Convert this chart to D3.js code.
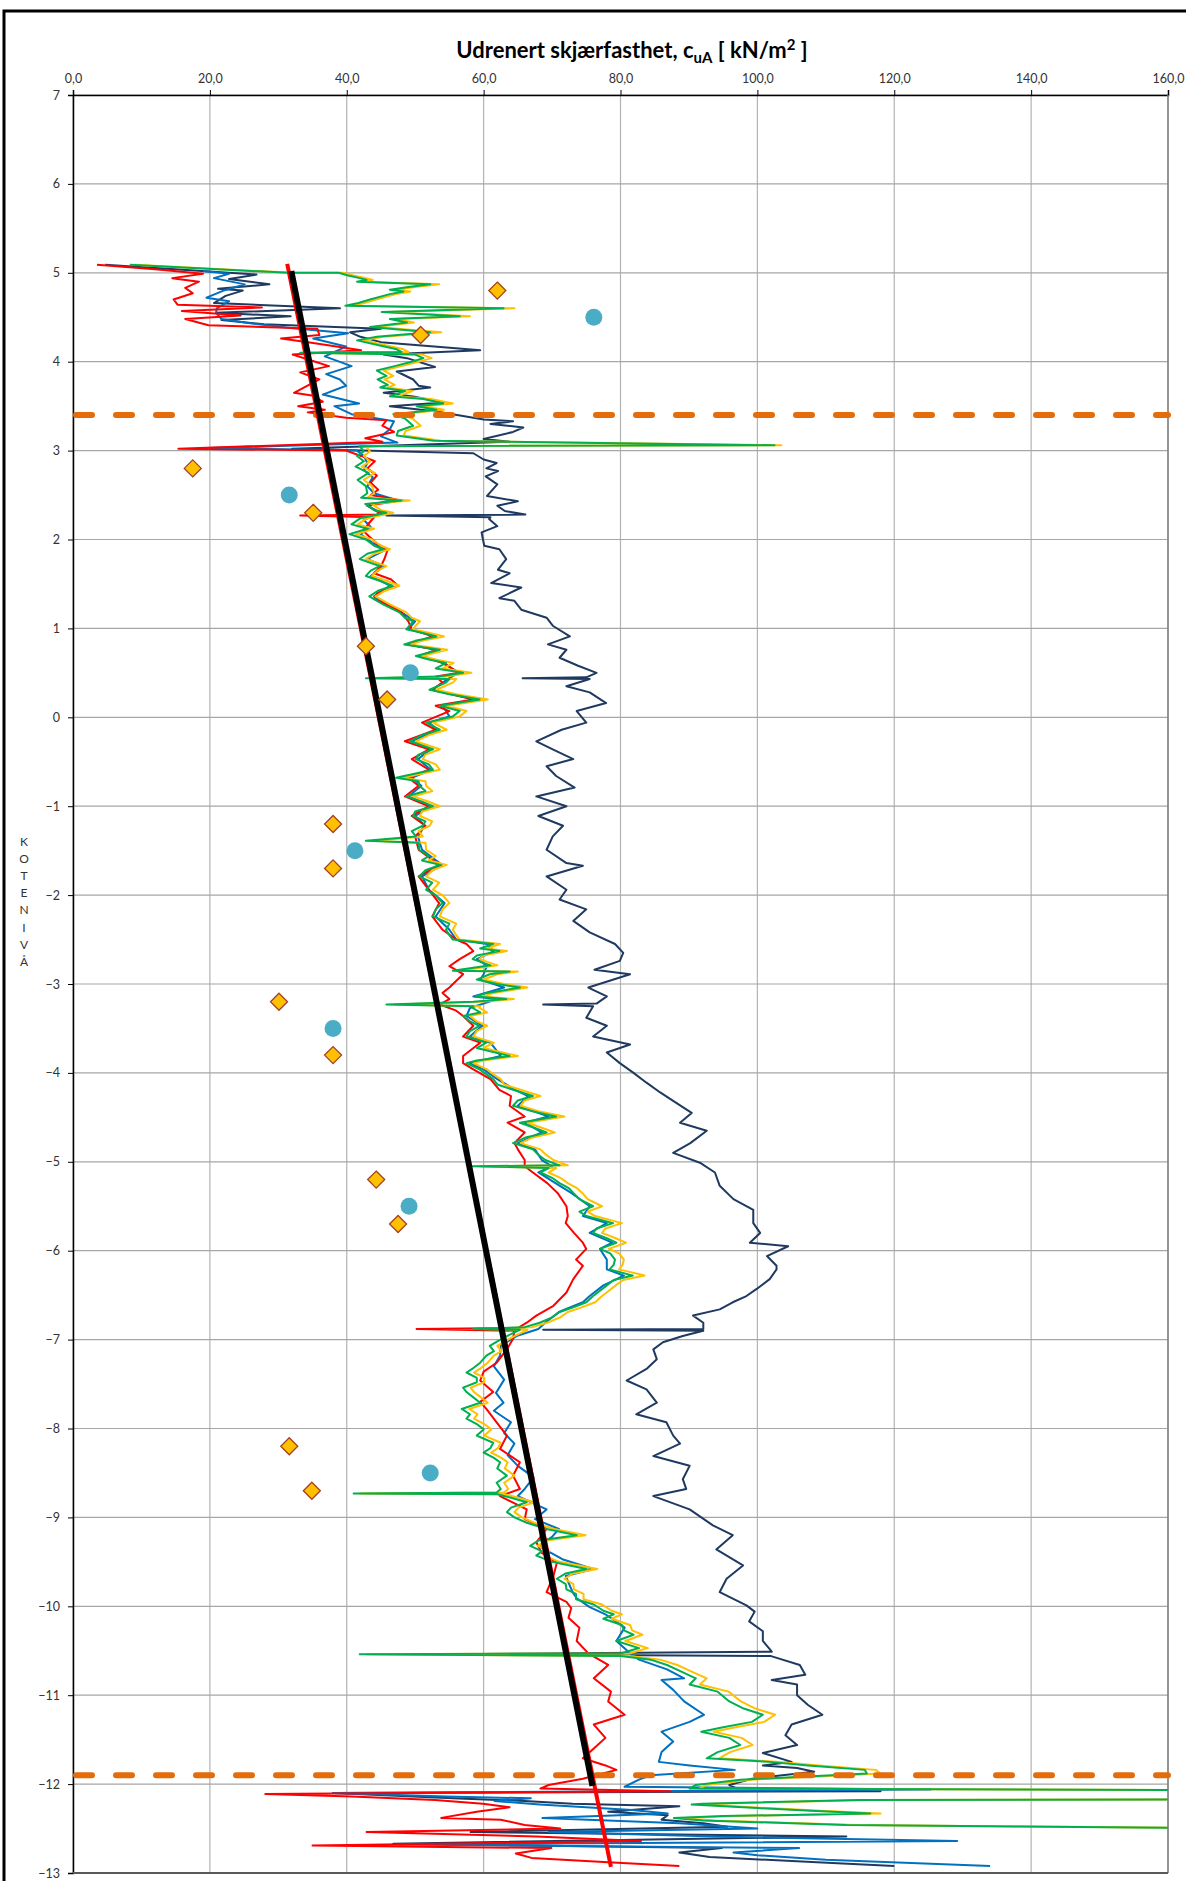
<!DOCTYPE html>
<html>
<head>
<meta charset="utf-8">
<script src="https://cdn.jsdelivr.net/npm/d3@7"></script>
<style>
  body { margin: 0; background: #fff; }
  svg { display: block; font-family: Lato, "Open Sans", sans-serif; }
</style>
</head>
<body>
<svg id="chart" width="1186" height="1881"></svg>
<script>
// Udrenert skjærfasthet vs kotenivå - CPTU profiles
const xTicks = [0, 20, 40, 60, 80, 100, 120, 140, 160];
const yTicks = d3.range(7, -14, -1);
const yLabelLetters = ['K', 'O', 'T', 'E', 'N', 'I', 'V', 'Å'];

// [kote, cu]
const navyData = [
  [5.09, 4.7], [4.98, 26.8], [4.93, 22.8], [4.87, 28.7], [4.82, 21.2], [4.80, 24.8], [4.74, 22.3],
  [4.66, 20.6], [4.60, 39], [4.55, 20.9], [4.51, 31.8], [4.47, 21.7], [4.42, 27.9], [4.37, 45],
  [4.33, 40.5], [4.28, 42], [4.22, 45], [4.16, 54.6], [4.13, 59.5], [4.08, 45.4], [4.04, 48.8],
  [3.94, 52.9], [3.89, 47.3], [3.80, 49.7], [3.73, 50.5], [3.71, 52.2], [3.65, 45.4], [3.61, 49.7],
  [3.54, 54.1], [3.50, 46.3], [3.44, 53.1], [3.35, 60], [3.33, 64.3], [3.30, 61], [3.26, 65.8],
  [3.21, 64.3], [3.13, 60], [3.10, 63.8], [3.02, 32], [2.97, 58.5], [2.90, 60], [2.86, 61.9],
  [2.80, 60.4], [2.77, 62.1], [2.71, 60.3], [2.62, 62], [2.49, 60.5], [2.43, 65], [2.38, 62],
  [2.32, 63.1], [2.28, 66.1], [2.27, 45.8], [2.25, 61], [2.23, 60.8], [2.15, 62], [2.08, 59.7],
  [2.00, 59.9], [1.93, 60.1], [1.89, 62.3], [1.78, 63.3], [1.66, 62.1], [1.62, 63.8], [1.51, 61.1],
  [1.46, 65.5], [1.34, 62.3], [1.31, 64.5], [1.21, 65.5], [1.12, 69.2], [1.03, 70.1], [0.91, 72.6],
  [0.82, 69.4], [0.76, 72.1], [0.67, 71.1], [0.58, 73.8], [0.50, 76.5], [0.45, 75], [0.44, 65.7],
  [0.43, 75.5], [0.35, 72.1], [0.28, 75.5], [0.16, 77.9], [0.07, 73.6], [-0.06, 75], [-0.14, 71.4],
  [-0.27, 67.7], [-0.36, 70.1], [-0.47, 73.1], [-0.55, 69.2], [-0.66, 70.6], [-0.79, 73.3],
  [-0.89, 67.7], [-1.00, 72.1], [-1.11, 68], [-1.22, 71.6], [-1.34, 70.1], [-1.49, 69.2],
  [-1.64, 72.1], [-1.67, 74.5], [-1.79, 69.2], [-1.94, 72.1], [-2.05, 71.1], [-2.16, 75],
  [-2.29, 73.1], [-2.42, 75.5], [-2.55, 79.2], [-2.65, 80.4], [-2.74, 79.9], [-2.84, 76.2],
  [-2.89, 81.4], [-3.04, 75.3], [-3.14, 78], [-3.22, 76.5], [-3.23, 68.7], [-3.25, 76],
  [-3.38, 75], [-3.47, 78], [-3.59, 76], [-3.68, 81.4], [-3.77, 78], [-3.89, 79.9], [-4.00, 81.9],
  [-4.11, 83.8], [-4.22, 85.8], [-4.34, 88.2], [-4.45, 90.4], [-4.56, 88.7], [-4.65, 92.6],
  [-4.79, 90.2], [-4.90, 87.7], [-5.01, 91.6], [-5.12, 93.8], [-5.27, 94.5], [-5.42, 96.5],
  [-5.54, 99.4], [-5.69, 99.4], [-5.80, 100.4], [-5.91, 98.9], [-5.95, 104.5], [-6.06, 101.4],
  [-6.17, 102.8], [-6.21, 102.8], [-6.32, 101.8], [-6.43, 99.9], [-6.51, 98.4], [-6.58, 96.4],
  [-6.66, 94.5], [-6.73, 90.6], [-6.81, 92.1], [-6.88, 92.1], [-6.89, 68.7], [-6.90, 92.1],
  [-6.96, 89.1], [-7.03, 86.2], [-7.11, 84.8], [-7.22, 85.3], [-7.33, 83.8], [-7.46, 80.9],
  [-7.56, 83.8], [-7.71, 85.3], [-7.84, 82.3], [-7.93, 86.7], [-8.08, 87.7], [-8.17, 88.7],
  [-8.31, 84.8], [-8.42, 90.1], [-8.57, 89.1], [-8.68, 89.6], [-8.76, 84.8], [-8.91, 90.1],
  [-9.09, 93.5], [-9.20, 96.4], [-9.36, 94], [-9.54, 97.9], [-9.69, 95.5], [-9.84, 94.5],
  [-9.99, 98.4], [-10.06, 99.6], [-10.17, 98.8], [-10.28, 100.8], [-10.39, 100.8], [-10.51, 102.1],
  [-10.54, 56], [-10.56, 102], [-10.66, 106.2], [-10.77, 107], [-10.83, 102.1], [-10.88, 105.8],
  [-11.00, 105.8], [-11.11, 107.4], [-11.22, 109.5], [-11.33, 105], [-11.45, 104.1], [-11.56, 105.8],
  [-11.65, 100.8], [-11.75, 105], [-11.79, 100.8], [-11.82, 105.8], [-11.86, 108.3], [-11.94, 99.2],
  [-12.01, 95.9], [-12.05, 97], [-12.08, 118], [-12.10, 38], [-12.16, 55.5], [-12.19, 66],
  [-12.22, 73], [-12.25, 88.6], [-12.31, 78.2], [-12.35, 86.9], [-12.40, 86], [-12.44, 92.1],
  [-12.48, 95.6], [-12.54, 58.1], [-12.59, 113], [-12.67, 46.8], [-12.72, 94.8], [-12.77, 88.6],
  [-12.82, 93], [-12.88, 108.7], [-12.92, 120]
];

const blueData = [
  [5.02, 19], [4.99, 22.8], [4.94, 20.6], [4.87, 25.1], [4.80, 22], [4.72, 19.5], [4.68, 22.8],
  [4.60, 21], [4.55, 20.9], [4.48, 21.7], [4.44, 25.1], [4.38, 31.8], [4.32, 40.2], [4.26, 35.1],
  [4.17, 39.9], [4.06, 36.8], [3.95, 40.7], [3.86, 37], [3.80, 39], [3.73, 39.9], [3.63, 36.5],
  [3.53, 41.8], [3.50, 38.2], [3.41, 40.7], [3.33, 46.9], [3.24, 46.3], [3.16, 45], [3.09, 47.4],
  [3.03, 20], [3.00, 41.5], [2.94, 42.5], [2.86, 43], [2.78, 42.5], [2.70, 43.8], [2.60, 43],
  [2.52, 44], [2.45, 47], [2.38, 43], [2.30, 45], [2.22, 42.5], [2.14, 43.5], [2.06, 42],
  [1.95, 44], [1.89, 45.8], [1.78, 43], [1.70, 45.5], [1.59, 43.5], [1.48, 46.3], [1.36, 44],
  [1.27, 45.8], [1.18, 48], [1.08, 50], [0.99, 49], [0.91, 53], [0.82, 49], [0.76, 53.2],
  [0.69, 50.6], [0.61, 54.3], [0.50, 56.2], [0.39, 54], [0.31, 52.5], [0.20, 58.8], [0.13, 54],
  [0.01, 55], [-0.06, 52], [-0.14, 53.3], [-0.27, 49.5], [-0.36, 52.3], [-0.47, 50.4], [-0.59, 52.3],
  [-0.68, 49.5], [-0.77, 50.9], [-0.89, 49], [-1.00, 52.3], [-1.11, 50], [-1.22, 51.4], [-1.34, 50.4],
  [-1.49, 51], [-1.66, 53.9], [-1.79, 51], [-1.94, 52], [-2.09, 54.3], [-2.24, 53], [-2.39, 55],
  [-2.50, 56], [-2.55, 60.5], [-2.63, 61.5], [-2.72, 59], [-2.79, 60.5], [-2.89, 60], [-2.95, 59.5],
  [-3.04, 63], [-3.14, 58.5], [-3.17, 62], [-3.27, 58], [-3.36, 57.5], [-3.47, 59.8], [-3.59, 58],
  [-3.66, 61], [-3.81, 62.5], [-3.89, 58], [-3.96, 60], [-4.07, 62], [-4.19, 64.6], [-4.26, 66.5],
  [-4.37, 65], [-4.49, 69.5], [-4.56, 66], [-4.67, 68.5], [-4.79, 65], [-4.86, 67.5], [-4.98, 68.5],
  [-5.05, 70], [-5.12, 68], [-5.24, 70.5], [-5.35, 72.8], [-5.50, 75.5], [-5.61, 74.5], [-5.69, 78],
  [-5.80, 75.5], [-5.91, 78.8], [-5.98, 77], [-6.10, 78], [-6.21, 78], [-6.28, 80.5], [-6.39, 77.5],
  [-6.51, 75.5], [-6.58, 74.5], [-6.69, 71], [-6.81, 69], [-6.88, 68], [-6.96, 64.8], [-7.07, 62.5],
  [-7.18, 62.4], [-7.30, 61.5], [-7.45, 63], [-7.60, 61.8], [-7.71, 62.9], [-7.80, 61.5], [-7.93, 64],
  [-8.05, 63], [-8.17, 64.5], [-8.30, 63.5], [-8.42, 65], [-8.55, 67.3], [-8.68, 66], [-8.76, 65],
  [-8.91, 69.2], [-9.02, 67.5], [-9.13, 71], [-9.22, 70], [-9.32, 68], [-9.47, 71.5], [-9.58, 76],
  [-9.66, 72], [-9.75, 72.5], [-9.84, 73], [-9.91, 73.6], [-10.01, 75.5], [-10.09, 77.8],
  [-10.24, 80.6], [-10.39, 79.4], [-10.50, 81], [-10.60, 82.7], [-10.71, 86.8], [-10.81, 89.3],
  [-10.83, 86], [-10.94, 87.7], [-11.07, 89.3], [-11.22, 92.2], [-11.30, 90.1], [-11.41, 86],
  [-11.52, 87.7], [-11.64, 86], [-11.75, 85.6], [-11.79, 90.1], [-11.84, 96.7], [-11.90, 84.4],
  [-11.95, 82.7], [-12.03, 80.6], [-12.06, 125.3], [-12.10, 38], [-12.14, 54.6], [-12.16, 66.9],
  [-12.19, 61.6], [-12.23, 68.2], [-12.29, 81.7], [-12.33, 86.9], [-12.38, 68.6], [-12.44, 88.6],
  [-12.50, 100], [-12.54, 69.5], [-12.59, 93.9], [-12.64, 129.2], [-12.68, 47.7], [-12.72, 106.1],
  [-12.77, 96.5], [-12.80, 100], [-12.85, 110], [-12.92, 134]
];

const redData = [
  [5.09, 3.5], [5.04, 12], [4.99, 19], [4.94, 14.5], [4.90, 18.4], [4.83, 16.4], [4.77, 17.5],
  [4.70, 14.7], [4.64, 15.3], [4.61, 27.6], [4.57, 15.9], [4.52, 24.5], [4.48, 16.4], [4.41, 19.8],
  [4.37, 35.7], [4.30, 36], [4.26, 30.4], [4.21, 35.1], [4.13, 42.1], [4.08, 32.1], [4.02, 34.6],
  [3.95, 37.4], [3.88, 33.2], [3.80, 36], [3.72, 34], [3.65, 32.3], [3.62, 34.9], [3.55, 36.5],
  [3.50, 32.9], [3.46, 36.8], [3.43, 34.3], [3.37, 39.9], [3.34, 45.8], [3.28, 45.2], [3.21, 46.9],
  [3.14, 42.7], [3.10, 45.2], [3.02, 15.4], [3.00, 39.9], [2.94, 42.1], [2.88, 44.1], [2.80, 43],
  [2.72, 44.4], [2.64, 43.5], [2.56, 44.6], [2.50, 43.5], [2.44, 48], [2.38, 43], [2.28, 45.2],
  [2.27, 33.2], [2.25, 44], [2.18, 43.2], [2.10, 42.4], [2.04, 43.2], [1.95, 44.5], [1.89, 46],
  [1.78, 45.5], [1.70, 45], [1.62, 44], [1.55, 46.5], [1.48, 47.5], [1.40, 44.5], [1.33, 44],
  [1.27, 46], [1.18, 48], [1.08, 49], [0.99, 49.5], [0.91, 52.5], [0.82, 49], [0.76, 53], [0.69, 51],
  [0.61, 54], [0.50, 56.5], [0.46, 53], [0.39, 54], [0.31, 52.5], [0.20, 58.5], [0.13, 53],
  [0.07, 55], [-0.06, 51], [-0.14, 53], [-0.27, 48.5], [-0.36, 52], [-0.47, 49.5], [-0.59, 52],
  [-0.68, 49], [-0.77, 50.5], [-0.89, 48.5], [-1.00, 52], [-1.11, 49.5], [-1.22, 51.5], [-1.34, 50],
  [-1.49, 50.5], [-1.66, 53.5], [-1.79, 50.5], [-1.94, 52], [-2.09, 53.5], [-2.24, 52.5], [-2.39, 54],
  [-2.50, 56], [-2.55, 57.5], [-2.63, 58.5], [-2.72, 56.5], [-2.80, 55], [-2.89, 57], [-3.04, 55],
  [-3.10, 54], [-3.17, 55], [-3.23, 53.6], [-3.30, 56], [-3.36, 57], [-3.47, 58.5], [-3.59, 57],
  [-3.66, 59.5], [-3.81, 57], [-3.89, 57], [-3.96, 58.5], [-4.07, 61], [-4.19, 62.3], [-4.26, 64],
  [-4.37, 63.8], [-4.49, 66], [-4.56, 63.5], [-4.67, 66], [-4.79, 64.5], [-4.86, 65], [-4.98, 66],
  [-5.05, 66], [-5.12, 67.2], [-5.24, 69.3], [-5.35, 70.8], [-5.50, 72.1], [-5.61, 72.3], [-5.69, 72],
  [-5.80, 73.2], [-5.91, 74.5], [-5.98, 75], [-6.10, 73.5], [-6.17, 74.5], [-6.32, 73.1],
  [-6.47, 72.1], [-6.62, 70.2], [-6.73, 67.7], [-6.81, 66.3], [-6.87, 65], [-6.88, 50.2],
  [-6.90, 64.5], [-6.99, 64.3], [-7.11, 63.4], [-7.26, 61.9], [-7.36, 60], [-7.46, 59.5],
  [-7.59, 61.4], [-7.70, 59.5], [-7.78, 60.4], [-7.93, 61.9], [-8.08, 63.4], [-8.23, 62.4],
  [-8.38, 65.3], [-8.53, 64.3], [-8.68, 65.3], [-8.76, 62.4], [-8.91, 66.3], [-9.02, 66],
  [-9.13, 69.2], [-9.28, 67.7], [-9.40, 68.5], [-9.51, 70.7], [-9.66, 70.2], [-9.84, 69.2],
  [-9.95, 72.1], [-10.02, 72.8], [-10.13, 72.4], [-10.24, 74], [-10.39, 73.6], [-10.53, 75.3],
  [-10.66, 78.2], [-10.81, 76.1], [-10.96, 78.6], [-11.07, 78.2], [-11.22, 80.6], [-11.33, 76.1],
  [-11.48, 77.8], [-11.60, 76.1], [-11.71, 74.5], [-11.79, 77.8], [-11.84, 79.4], [-11.94, 74.5],
  [-12.01, 69.5], [-12.05, 68.3], [-12.08, 87.3], [-12.11, 28.1], [-12.14, 40.7], [-12.18, 52.9],
  [-12.22, 59.9], [-12.26, 63.8], [-12.31, 59], [-12.38, 53.8], [-12.40, 62.5], [-12.46, 66],
  [-12.50, 71.2], [-12.54, 42.9], [-12.59, 67.7], [-12.64, 83], [-12.69, 35], [-12.72, 69.9],
  [-12.78, 64.7], [-12.83, 67], [-12.88, 78.2], [-12.92, 88.6]
];

const yellowData = [
  [5.09, 9], [5.00, 32], [5.00, 39.5], [4.97, 41], [4.94, 42.8], [4.92, 43.8], [4.90, 42.3],
  [4.87, 53.5], [4.84, 50], [4.81, 47.3], [4.79, 49.3], [4.76, 47.2], [4.70, 44.3], [4.66, 42.6],
  [4.63, 40.7], [4.60, 64.5], [4.56, 46], [4.51, 58], [4.48, 47.2], [4.44, 49.8], [4.39, 44.3],
  [4.33, 53.8], [4.28, 45.4], [4.24, 42.5], [4.18, 46], [4.14, 48.3], [4.11, 49], [4.10, 34],
  [4.08, 51], [4.04, 52.4], [4.00, 50.5], [3.95, 48], [3.90, 45.4], [3.84, 46.8], [3.80, 45.5],
  [3.74, 47], [3.71, 46], [3.67, 49.6], [3.61, 47.3], [3.58, 52.3], [3.53, 55.5], [3.50, 51.2],
  [3.46, 54.2], [3.41, 47.8], [3.36, 49.6], [3.28, 50.8], [3.22, 48.6], [3.17, 48.3], [3.11, 53.8],
  [3.06, 103.5], [3.05, 42.8], [2.99, 43.4], [2.94, 42.5], [2.88, 43.4], [2.82, 42.2], [2.75, 44.1],
  [2.67, 42.5], [2.60, 43.7], [2.52, 44], [2.47, 43], [2.44, 49.2], [2.40, 43.6], [2.33, 45],
  [2.30, 46.8], [2.24, 43], [2.17, 41.6], [2.12, 44], [2.06, 41.3], [2.00, 43.7], [1.93, 45],
  [1.89, 46.3], [1.84, 44], [1.78, 42.8], [1.70, 45.8], [1.65, 44.5], [1.59, 43.7], [1.53, 46],
  [1.48, 47.7], [1.42, 45.5], [1.36, 44.2], [1.27, 46.3], [1.18, 48.7], [1.12, 49.5], [1.08, 50.7],
  [0.99, 49.6], [0.95, 52], [0.91, 54.2], [0.86, 51], [0.82, 49.3], [0.76, 54.7], [0.69, 51],
  [0.65, 53], [0.61, 55.6], [0.55, 54], [0.50, 58.2], [0.46, 54.5], [0.44, 44], [0.43, 56],
  [0.39, 55.5], [0.31, 53.1], [0.26, 56], [0.20, 60.6], [0.13, 54.6], [0.07, 57.5], [0.01, 56.5],
  [-0.06, 52.6], [-0.14, 54.6], [-0.20, 52], [-0.27, 50.1], [-0.36, 53.6], [-0.42, 51.5],
  [-0.47, 51.1], [-0.53, 53], [-0.59, 53.6], [-0.68, 48.2], [-0.72, 51.5], [-0.77, 51.6],
  [-0.83, 52.5], [-0.89, 49.7], [-0.95, 52], [-1.00, 53.6], [-1.06, 51], [-1.11, 50.7], [-1.17, 52.5],
  [-1.22, 52.1], [-1.28, 50.5], [-1.34, 51.1], [-1.39, 44], [-1.41, 51.5], [-1.49, 51.6], [-1.56, 53],
  [-1.61, 52], [-1.66, 54.6], [-1.72, 52.5], [-1.79, 51.6], [-1.86, 53.5], [-1.94, 52.6], [-2.00, 54],
  [-2.09, 55], [-2.16, 54], [-2.24, 53.6], [-2.32, 56], [-2.39, 55.5], [-2.45, 56], [-2.50, 56.5],
  [-2.55, 62.4], [-2.60, 60.5], [-2.63, 63.4], [-2.68, 60], [-2.72, 59.4], [-2.79, 62], [-2.85, 56.5],
  [-2.86, 65], [-2.89, 62], [-2.95, 60], [-3.00, 63], [-3.04, 66.4], [-3.10, 61.5], [-3.14, 59.9],
  [-3.17, 64.4], [-3.20, 59.5], [-3.23, 47], [-3.25, 59.5], [-3.27, 59.4], [-3.32, 60.5], [-3.36, 58],
  [-3.42, 59], [-3.47, 60.5], [-3.53, 59], [-3.59, 58.5], [-3.66, 61.5], [-3.72, 60], [-3.81, 65],
  [-3.86, 60], [-3.89, 58.5], [-3.96, 60.5], [-4.02, 61.5], [-4.07, 62.5], [-4.13, 63], [-4.19, 65.4],
  [-4.26, 68.3], [-4.31, 66], [-4.37, 65.4], [-4.43, 68], [-4.49, 71.8], [-4.56, 66.4], [-4.62, 68.6],
  [-4.67, 70.4], [-4.73, 67], [-4.79, 65.4], [-4.86, 68.3], [-4.92, 69.1], [-4.98, 70.2], [-5.04, 72.3],
  [-5.05, 59.5], [-5.07, 70.6], [-5.12, 69.5], [-5.18, 71.2], [-5.24, 72.3], [-5.30, 73.7],
  [-5.35, 74.4], [-5.42, 75.2], [-5.50, 77.3], [-5.56, 75.2], [-5.61, 76.3], [-5.69, 80.2],
  [-5.75, 77.8], [-5.80, 77.3], [-5.86, 79.3], [-5.91, 80.8], [-5.98, 78.3], [-6.03, 79.8],
  [-6.10, 80.5], [-6.16, 80.3], [-6.21, 79.8], [-6.28, 83.5], [-6.33, 80.4], [-6.39, 79.3],
  [-6.45, 78.3], [-6.51, 77.3], [-6.58, 76.3], [-6.64, 74.2], [-6.69, 72.3], [-6.75, 71.2],
  [-6.81, 69.3], [-6.86, 67.1], [-6.88, 59.5], [-6.89, 66.4], [-6.96, 64.5], [-7.02, 63.1],
  [-7.07, 62], [-7.13, 62.6], [-7.18, 61.5], [-7.26, 60.6], [-7.32, 59.6], [-7.37, 58.6], [-7.43, 60.1],
  [-7.48, 60.1], [-7.54, 58.1], [-7.59, 58.6], [-7.65, 59.6], [-7.71, 60.6], [-7.78, 57.9],
  [-7.84, 59.1], [-7.89, 58.6], [-7.95, 60.1], [-8.01, 61.1], [-8.08, 60.1], [-8.16, 62.5],
  [-8.22, 62.1], [-8.27, 61.1], [-8.33, 62.6], [-8.38, 63.5], [-8.45, 63.1], [-8.53, 64.5],
  [-8.61, 63], [-8.68, 63.6], [-8.72, 63], [-8.73, 42], [-8.74, 63.1], [-8.78, 65.1], [-8.83, 67.4],
  [-8.89, 65.1], [-8.94, 64.5], [-9.00, 65.6], [-9.06, 67.4], [-9.13, 70.3], [-9.20, 74.9],
  [-9.26, 69.1], [-9.32, 67.9], [-9.38, 69.6], [-9.43, 68.8], [-9.50, 71.1], [-9.58, 76.6],
  [-9.63, 73.1], [-9.69, 71.8], [-9.75, 73.1], [-9.81, 73.2], [-9.86, 74.6], [-9.92, 74.6],
  [-9.98, 77.3], [-10.05, 78.7], [-10.09, 80.2], [-10.14, 78.7], [-10.21, 81.4], [-10.27, 81.7],
  [-10.32, 83.2], [-10.39, 80.7], [-10.47, 84], [-10.53, 81.3], [-10.54, 43], [-10.56, 81.3],
  [-10.60, 85.8], [-10.66, 88.3], [-10.72, 90], [-10.81, 92.6], [-10.88, 91.6], [-10.96, 95.8],
  [-11.07, 97.6], [-11.15, 99.7], [-11.22, 102.6], [-11.30, 101], [-11.36, 96.8], [-11.41, 93.6],
  [-11.48, 97.7], [-11.56, 99.3], [-11.64, 96], [-11.71, 94.4], [-11.75, 103.2], [-11.79, 109],
  [-11.84, 117.3], [-11.88, 118], [-11.92, 107.3], [-11.95, 99], [-12.01, 92.5], [-12.05, 91.5],
  [-12.07, 175], [-12.17, 175], [-12.18, 116.5], [-12.22, 93.5], [-12.23, 92], [-12.27, 101.5],
  [-12.30, 109.3], [-12.33, 118], [-12.36, 96.5], [-12.38, 89.3], [-12.41, 93.5], [-12.44, 106.5],
  [-12.46, 114.5], [-12.50, 175]
];

const greenData = [
  [5.09, 8.3], [5.00, 31.5], [5.00, 38.8], [4.97, 40.2], [4.94, 41.9], [4.92, 42.9], [4.90, 41.5],
  [4.87, 52.2], [4.84, 49], [4.81, 46.3], [4.79, 48.3], [4.76, 46.3], [4.70, 43.4], [4.66, 41.7],
  [4.63, 39.8], [4.60, 62.9], [4.56, 45.1], [4.51, 56.5], [4.48, 46.3], [4.44, 48.8], [4.39, 43.4],
  [4.33, 52.2], [4.28, 44.4], [4.24, 41.5], [4.18, 45], [4.14, 47.3], [4.11, 48], [4.10, 33.2],
  [4.08, 50], [4.04, 51.2], [4.00, 49.5], [3.95, 47], [3.90, 44.4], [3.84, 45.8], [3.80, 44.5],
  [3.74, 46], [3.71, 44.9], [3.67, 48.5], [3.61, 46.3], [3.58, 51.2], [3.53, 54.1], [3.50, 50.2],
  [3.46, 53.1], [3.41, 46.8], [3.36, 48.5], [3.28, 49.7], [3.22, 47.5], [3.17, 47.3], [3.11, 52.7],
  [3.06, 102.5], [3.05, 41.9], [2.99, 42.5], [2.94, 41.5], [2.88, 42.5], [2.82, 41.3], [2.75, 43.2],
  [2.67, 41.6], [2.60, 42.8], [2.52, 43], [2.47, 42.1], [2.44, 48], [2.40, 42.7], [2.33, 44],
  [2.30, 45.8], [2.24, 42], [2.17, 40.7], [2.12, 43], [2.06, 40.4], [2.00, 42.8], [1.93, 44],
  [1.89, 45.3], [1.84, 43], [1.78, 41.9], [1.70, 44.8], [1.65, 43.5], [1.59, 42.8], [1.53, 45],
  [1.48, 46.7], [1.42, 44.5], [1.36, 43.3], [1.27, 45.3], [1.18, 47.7], [1.12, 48.5], [1.08, 49.7],
  [0.99, 48.7], [0.95, 51], [0.91, 53.1], [0.86, 50], [0.82, 48.4], [0.76, 53.6], [0.69, 50.1],
  [0.65, 52], [0.61, 54.5], [0.55, 53], [0.50, 57], [0.46, 53.5], [0.44, 42.8], [0.43, 55],
  [0.39, 54.5], [0.31, 52.1], [0.26, 55], [0.20, 59.4], [0.13, 53.6], [0.07, 56.5], [0.01, 55.5],
  [-0.06, 51.6], [-0.14, 53.6], [-0.20, 51], [-0.27, 49.2], [-0.36, 52.6], [-0.42, 50.5],
  [-0.47, 50.1], [-0.53, 52], [-0.59, 52.6], [-0.68, 47.2], [-0.72, 50.5], [-0.77, 50.6],
  [-0.83, 51.5], [-0.89, 48.7], [-0.95, 51], [-1.00, 52.6], [-1.06, 50], [-1.11, 49.7], [-1.17, 51.5],
  [-1.22, 51.1], [-1.28, 49.5], [-1.34, 50.1], [-1.39, 42.8], [-1.41, 50.5], [-1.49, 50.6], [-1.56, 52],
  [-1.61, 51], [-1.66, 53.6], [-1.72, 51.5], [-1.79, 50.6], [-1.86, 52.5], [-1.94, 51.6], [-2.00, 53],
  [-2.09, 54], [-2.16, 53], [-2.24, 52.6], [-2.32, 55], [-2.39, 54.5], [-2.45, 55], [-2.50, 55.5],
  [-2.55, 61.4], [-2.60, 59.5], [-2.63, 62.3], [-2.68, 59], [-2.72, 58.4], [-2.79, 61], [-2.85, 55.5],
  [-2.86, 63.8], [-2.89, 60.9], [-2.95, 59], [-3.00, 62], [-3.04, 65.3], [-3.10, 60.5], [-3.14, 58.9],
  [-3.17, 63.3], [-3.20, 58.5], [-3.23, 45.8], [-3.25, 58.5], [-3.27, 58.4], [-3.32, 59.5], [-3.36, 57],
  [-3.42, 58], [-3.47, 59.4], [-3.53, 58], [-3.59, 57.5], [-3.66, 60.4], [-3.72, 59], [-3.81, 63.8],
  [-3.86, 59], [-3.89, 57.5], [-3.96, 59.4], [-4.02, 60.5], [-4.07, 61.4], [-4.13, 62], [-4.19, 64.3],
  [-4.26, 67.2], [-4.31, 65], [-4.37, 64.3], [-4.43, 67], [-4.49, 70.6], [-4.56, 65.3], [-4.62, 67.5],
  [-4.67, 69.2], [-4.73, 66], [-4.79, 64.3], [-4.86, 67.2], [-4.92, 68], [-4.98, 69], [-5.04, 71.1],
  [-5.05, 58.4], [-5.07, 69.5], [-5.12, 68.3], [-5.18, 70], [-5.24, 71.1], [-5.30, 72.5], [-5.35, 73.1],
  [-5.42, 74], [-5.50, 76], [-5.56, 74], [-5.61, 75], [-5.69, 78.9], [-5.75, 76.5], [-5.80, 76],
  [-5.86, 78], [-5.91, 79.4], [-5.98, 77], [-6.03, 78.5], [-6.10, 79.2], [-6.16, 79], [-6.21, 78.4],
  [-6.28, 81.8], [-6.33, 79], [-6.39, 78], [-6.45, 77], [-6.51, 76], [-6.58, 75], [-6.64, 73],
  [-6.69, 71.1], [-6.75, 70], [-6.81, 68.2], [-6.86, 66], [-6.88, 58.5], [-6.89, 65.3], [-6.96, 63.4],
  [-7.02, 62], [-7.07, 60.9], [-7.13, 61.5], [-7.18, 60.4], [-7.26, 59.5], [-7.32, 58.5], [-7.37, 57.5],
  [-7.43, 59], [-7.48, 59], [-7.54, 57], [-7.59, 57.5], [-7.65, 58.5], [-7.71, 59.5], [-7.78, 56.8],
  [-7.84, 58], [-7.89, 57.5], [-7.95, 59], [-8.01, 60], [-8.08, 59], [-8.16, 61.4], [-8.22, 61],
  [-8.27, 60], [-8.33, 61.5], [-8.38, 62.4], [-8.45, 62], [-8.53, 63.4], [-8.61, 61.9], [-8.68, 62.5],
  [-8.72, 61.9], [-8.73, 41], [-8.74, 62], [-8.78, 64], [-8.83, 66.3], [-8.89, 64], [-8.94, 63.4],
  [-9.00, 64.5], [-9.06, 66.3], [-9.13, 69.2], [-9.20, 73.6], [-9.26, 68], [-9.32, 66.8], [-9.38, 68.5],
  [-9.43, 67.7], [-9.50, 70], [-9.58, 75], [-9.63, 72], [-9.69, 70.7], [-9.75, 72], [-9.81, 72.1],
  [-9.86, 73.5], [-9.92, 73.5], [-9.98, 76.1], [-10.05, 77.5], [-10.09, 79], [-10.14, 77.5],
  [-10.21, 80.2], [-10.27, 80.5], [-10.32, 81.9], [-10.39, 79.4], [-10.47, 82.7], [-10.53, 80],
  [-10.54, 41.9], [-10.56, 80], [-10.60, 84.4], [-10.66, 86.8], [-10.72, 88.5], [-10.81, 91],
  [-10.88, 90.1], [-10.96, 94.2], [-11.07, 95.9], [-11.15, 98], [-11.22, 100.8], [-11.30, 99.2],
  [-11.36, 95], [-11.41, 91.8], [-11.48, 95.9], [-11.56, 97.5], [-11.64, 94.2], [-11.71, 92.6],
  [-11.75, 101.7], [-11.79, 107.4], [-11.84, 115.7], [-11.88, 116], [-11.92, 105.8], [-11.95, 97.5],
  [-12.01, 91], [-12.05, 90.1], [-12.07, 175], [-12.17, 175], [-12.18, 114.8], [-12.22, 92],
  [-12.23, 90.4], [-12.27, 100], [-12.30, 107.8], [-12.33, 116.5], [-12.36, 95], [-12.38, 87.8],
  [-12.41, 92], [-12.44, 105], [-12.46, 113], [-12.50, 175]
];

// lab results
const diamondPts = [
  [4.8, 62], [4.3, 50.8], [2.8, 17.5], [2.3, 35.1], [0.8, 42.8], [0.2, 45.9], [-1.2, 38],
  [-1.7, 38], [-3.2, 30.1], [-3.8, 38], [-5.2, 44.3], [-5.7, 47.5], [-8.2, 31.6], [-8.7, 34.9]
];
const circlePts = [
  [4.5, 76.1], [2.5, 31.6], [0.5, 49.3], [-1.5, 41.2], [-3.5, 38], [-5.5, 49.1], [-8.5, 52.2]
];

// design lines
const redTrend = [[5.1, 31.3], [-12.93, 78.6]];
const blackTrend = [[5.02, 31.9], [-12.02, 75.9]];
const layerLevels = [3.4, -11.9];

const seriesList = [
  { data: navyData, color: '#1f3a60' },
  { data: blueData, color: '#0070c0' },
  { data: redData, color: '#ff0000' },
  { data: yellowData, color: '#ffc000' },
  { data: greenData, color: '#00b050' }
];

const svg = d3.select('#chart');
const plot = { left: 73, right: 1168, top: 95, bottom: 1873 };

const x = d3.scaleLinear().domain([0, 160]).range([plot.left, plot.right]);
const y = d3.scaleLinear().domain([7, -13]).range([plot.top, plot.bottom]);

// outer frame
svg.append('rect')
  .attr('x', 4).attr('y', 11)
  .attr('width', 1200).attr('height', 1900)
  .attr('fill', 'none').attr('stroke', '#000').attr('stroke-width', 3);

// title
const title = svg.append('text')
  .attr('x', 632).attr('y', 58)
  .attr('text-anchor', 'middle')
  .style('font-size', '22px').style('font-weight', 'bold').style('fill', '#000');
title.append('tspan').text('Udrenert skjærfasthet, c');
title.append('tspan').text('uA').style('font-size', '15px').attr('dy', 5);
title.append('tspan').text(' [ kN/m').attr('dy', -5);
title.append('tspan').text('2').style('font-size', '15px').attr('dy', -8);
title.append('tspan').text(' ]').attr('dy', 8);

// gridlines
svg.append('g')
  .selectAll('line')
  .data(xTicks)
  .join('line')
  .attr('x1', d => x(d)).attr('x2', d => x(d))
  .attr('y1', plot.top).attr('y2', plot.bottom)
  .attr('stroke', '#b3b3b3').attr('stroke-width', 1.2);

svg.append('g')
  .selectAll('line')
  .data(yTicks)
  .join('line')
  .attr('x1', plot.left).attr('x2', plot.right)
  .attr('y1', d => y(d)).attr('y2', d => y(d))
  .attr('stroke', '#a6a6a6').attr('stroke-width', 1.2);

// axes
const fmt = d => d3.format('.1f')(d).replace('.', ',');
const xAxis = svg.append('g')
  .attr('transform', `translate(0,${plot.top})`)
  .call(d3.axisTop(x).tickValues(xTicks).tickFormat(fmt).tickSize(5).tickPadding(7));
xAxis.select('.domain').attr('stroke', '#000').attr('stroke-width', 1.5);
xAxis.selectAll('text').style('font-size', '12.5px').style('fill', '#333').style('font-family', 'Lato, sans-serif');

const yAxis = svg.append('g')
  .attr('transform', `translate(${plot.left},0)`)
  .call(d3.axisLeft(y).tickValues(yTicks).tickFormat(d3.format('d')).tickSize(5).tickPadding(8));
yAxis.select('.domain').attr('stroke', '#000').attr('stroke-width', 1.5);
yAxis.selectAll('text').style('font-size', '12.5px').style('fill', '#333').style('font-family', 'Lato, sans-serif');

// right + bottom borders
svg.append('line')
  .attr('x1', plot.right).attr('x2', plot.right).attr('y1', plot.top).attr('y2', plot.bottom)
  .attr('stroke', '#7f7f7f').attr('stroke-width', 1.5);
svg.append('line')
  .attr('x1', plot.left).attr('x2', plot.right).attr('y1', plot.bottom).attr('y2', plot.bottom)
  .attr('stroke', '#595959').attr('stroke-width', 2);

// y axis title, letters stacked
svg.append('g')
  .selectAll('text')
  .data(yLabelLetters)
  .join('text')
  .attr('x', 24)
  .attr('y', (d, i) => 846 + i * 17.1)
  .attr('text-anchor', 'middle')
  .style('font-size', '12px').style('fill', '#333')
  .text(d => d);

// clip region for the profiles
svg.append('clipPath').attr('id', 'plotClip')
  .append('rect')
  .attr('x', plot.left).attr('y', plot.top)
  .attr('width', plot.right - plot.left).attr('height', plot.bottom - plot.top);

const line = d3.line()
  .x(d => x(d[1]))
  .y(d => y(d[0]));

const profiles = svg.append('g').attr('clip-path', 'url(#plotClip)');
seriesList.forEach(s => {
  profiles.append('path')
    .datum(s.data)
    .attr('d', line)
    .attr('fill', 'none')
    .attr('stroke', s.color)
    .attr('stroke-width', 2)
    .attr('stroke-linejoin', 'round');
});

// layer boundaries
svg.append('g')
  .selectAll('line')
  .data(layerLevels)
  .join('line')
  .attr('x1', plot.left + 3).attr('x2', plot.right)
  .attr('y1', d => y(d)).attr('y2', d => y(d))
  .attr('stroke', '#e46c0a')
  .attr('stroke-width', 6)
  .attr('stroke-linecap', 'round')
  .attr('stroke-dasharray', '16,24');

// design line
svg.append('path')
  .datum(redTrend)
  .attr('d', line)
  .attr('stroke', '#ff0000').attr('stroke-width', 4).attr('fill', 'none');
svg.append('path')
  .datum(blackTrend)
  .attr('d', line)
  .attr('stroke', '#000').attr('stroke-width', 6).attr('fill', 'none');

// markers
svg.append('g')
  .selectAll('path')
  .data(diamondPts)
  .join('path')
  .attr('d', d3.symbol(d3.symbolDiamond2, 185))
  .attr('transform', d => `translate(${x(d[1])},${y(d[0])})`)
  .attr('fill', '#ffc000')
  .attr('stroke', '#a0412d')
  .attr('stroke-width', 1.3);

svg.append('g')
  .selectAll('circle')
  .data(circlePts)
  .join('circle')
  .attr('cx', d => x(d[1]))
  .attr('cy', d => y(d[0]))
  .attr('r', 8.5)
  .attr('fill', '#4bacc6');
</script>
</body>
</html>
